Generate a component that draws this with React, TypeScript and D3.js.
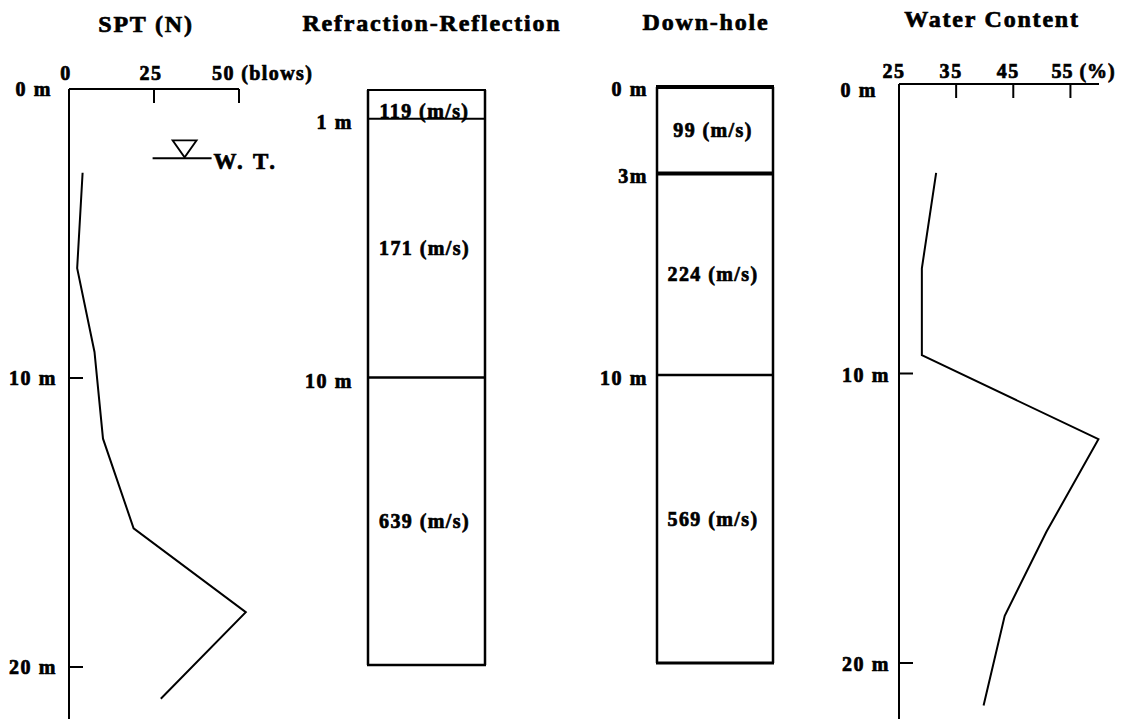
import { useEffect, useRef } from 'react';
import * as d3 from 'd3';

// SPT blow counts against depth
const sptDepth = [2.9, 6.2, 9.1, 12.1, 15.2, 18.1, 21.1];
const sptBlows = [4, 2.4, 7.5, 10, 19, 52, 27];
const sptTicks = [0, 25, 50];

// water content (%) against depth
const wcDepth = [3.0, 6.3, 9.3, 12.2, 15.4, 18.3, 21.4];
const wcValue = [31.5, 29, 29, 59.9, 50.8, 43.5, 39.8];
const wcTicks = [25, 35, 45, 55];

// shear wave velocity layers (boundaries in m, velocity in m/s)
const refrBounds = [0, 1, 10, 20];
const refrVel = [119, 171, 639];
const dhBounds = [0, 3, 10, 20];
const dhVel = [99, 224, 569];

const depthTicks = [0, 10, 20];
const wtDepth = 2.4;
const wtBlows = 34;

const FONT = '"Liberation Serif", "Times New Roman", serif';

export default function App() {
  const ref = useRef<SVGSVGElement | null>(null);

  useEffect(() => {
    document.body.style.margin = '0';
    const svg = d3.select(ref.current);
    svg.selectAll('*').remove();

    const txt = (x: number, y: number, s: string, size = 20, anchor = 'middle', ls = 1.6) =>
      svg.append('text')
        .attr('x', x).attr('y', y)
        .attr('text-anchor', anchor)
        .style('font-family', FONT)
        .style('font-weight', 'bold')
        .style('font-size', `${size}px`)
        .style('letter-spacing', `${ls}px`)
        .attr('fill', '#000')
        .attr('stroke', '#000')
        .attr('stroke-width', 0.7)
        .text(s);

    const line = (x1: number, y1: number, x2: number, y2: number, w = 2) =>
      svg.append('line')
        .attr('x1', x1).attr('y1', y1).attr('x2', x2).attr('y2', y2)
        .attr('stroke', '#000').attr('stroke-width', w);

    // titles
    txt(146, 32, 'SPT (N)', 24, 'middle', 1.8);
    txt(432, 31, 'Refraction-Reflection', 24, 'middle', 1.8);
    txt(706, 30, 'Down-hole', 24, 'middle', 1.8);
    txt(992, 27, 'Water Content', 24, 'middle', 1.8);

    // ---- SPT panel ----
    const sx = d3.scaleLinear().domain([0, 50]).range([69, 239]);
    const sy = d3.scaleLinear().domain([0, 20]).range([89, 667]);
    line(sx(0), sy(0), sx(0), 719);
    line(sx(0), sy(0), sx(50), sy(0));
    sptTicks.slice(1).forEach(t => line(sx(t), sy(0), sx(t), sy(0) + 14));
    sptTicks.forEach(t => {
      if (t === 50) txt(sx(t) - 27, 80, '50 (blows)', 20, 'start', 1.4);
      else txt(sx(t) - (t === 0 ? 3 : 3), 80, String(t));
    });
    depthTicks.forEach(d => {
      if (d > 0) line(sx(0), sy(d), sx(0) + 14, sy(d));
      txt(d === 0 ? 52 : 57, sy(d) + 7, `${d} m`, 20, 'end');
    });
    const sptLine = d3.line<number>()
      .x((_, i) => sx(sptBlows[i]))
      .y(d => sy(d));
    svg.append('path')
      .attr('d', sptLine(sptDepth))
      .attr('fill', 'none').attr('stroke', '#000').attr('stroke-width', 2);

    // water table marker
    const wx = sx(wtBlows);
    const wy = sy(wtDepth);
    line(wx - 32, wy, wx + 27, wy, 2);
    svg.append('path')
      .attr('d', `M${wx - 12},${wy - 18}L${wx + 12},${wy - 18}L${wx},${wy - 1}Z`)
      .attr('fill', 'none').attr('stroke', '#000').attr('stroke-width', 1.8);
    txt(wx + 29, wy + 11, 'W. T.', 23, 'start', 2.5);

    // ---- layered velocity columns ----
    const column = (x0: number, x1: number, top: number, bottom: number,
      bounds: number[], vel: number[], labelRight: number, thick: number[], labels: string[]) => {
      const y = d3.scaleLinear().domain([0, 20]).range([top, bottom]);
      line(x0, y(0), x0, y(20), 2.5);
      line(x1, y(0), x1, y(20), 2.5);
      bounds.forEach((b, i) => line(x0 - 1, y(b), x1 + 1, y(b), thick[i]));
      vel.forEach((v, i) => {
        const a = y(bounds[i]);
        const b = y(bounds[i + 1]);
        const cy = b - a < 35 ? b - 1 : (a + b) / 2 + 7;
        txt((x0 + x1) / 2 - 2, cy, `${v} (m/s)`, 20, 'middle', 1.4);
      });
      bounds.forEach((b, i) => {
        if (!labels[i]) return;
        txt(labelRight, y(b) + (b === 0 ? 9 : 10), labels[i], 20, 'end');
      });
    };
    column(368, 485, 90, 665, refrBounds, refrVel, 353, [2, 2, 2.5, 2.5],
      ['', '1 m', '10 m', '']);
    column(657, 773, 87, 663, dhBounds, dhVel, 648, [4, 4, 2.5, 3],
      ['0 m', '3m', '10 m', '']);

    // ---- water content panel ----
    const wxs = d3.scaleLinear().domain([25, 60]).range([899, 1099]);
    const wys = d3.scaleLinear().domain([0, 20]).range([86, 665]);
    line(wxs(25), 84, wxs(25), 719);
    line(wxs(25), 84, wxs(60), 84);
    wcTicks.slice(1).forEach(t => line(wxs(t), 84, wxs(t), 98));
    wcTicks.forEach(t => {
      if (t === 55) txt(wxs(t) - 19, 78, '55 (%)', 20, 'start', 1);
      else txt(wxs(t) - 5, 78, String(t));
    });
    depthTicks.forEach(d => {
      if (d > 0) line(wxs(25), wys(d) - 2, wxs(25) + 14, wys(d) - 2);
      txt(d === 0 ? 877 : 890, d === 0 ? 97 : wys(d) + 6, `${d} m`, 20, 'end');
    });
    const wcLine = d3.line<number>()
      .x((_, i) => wxs(wcValue[i]))
      .y(d => wys(d));
    svg.append('path')
      .attr('d', wcLine(wcDepth))
      .attr('fill', 'none').attr('stroke', '#000').attr('stroke-width', 2);
  }, []);

  return <svg ref={ref} width={1134} height={719} style={{ display: 'block', background: '#fff' }} />;
}
